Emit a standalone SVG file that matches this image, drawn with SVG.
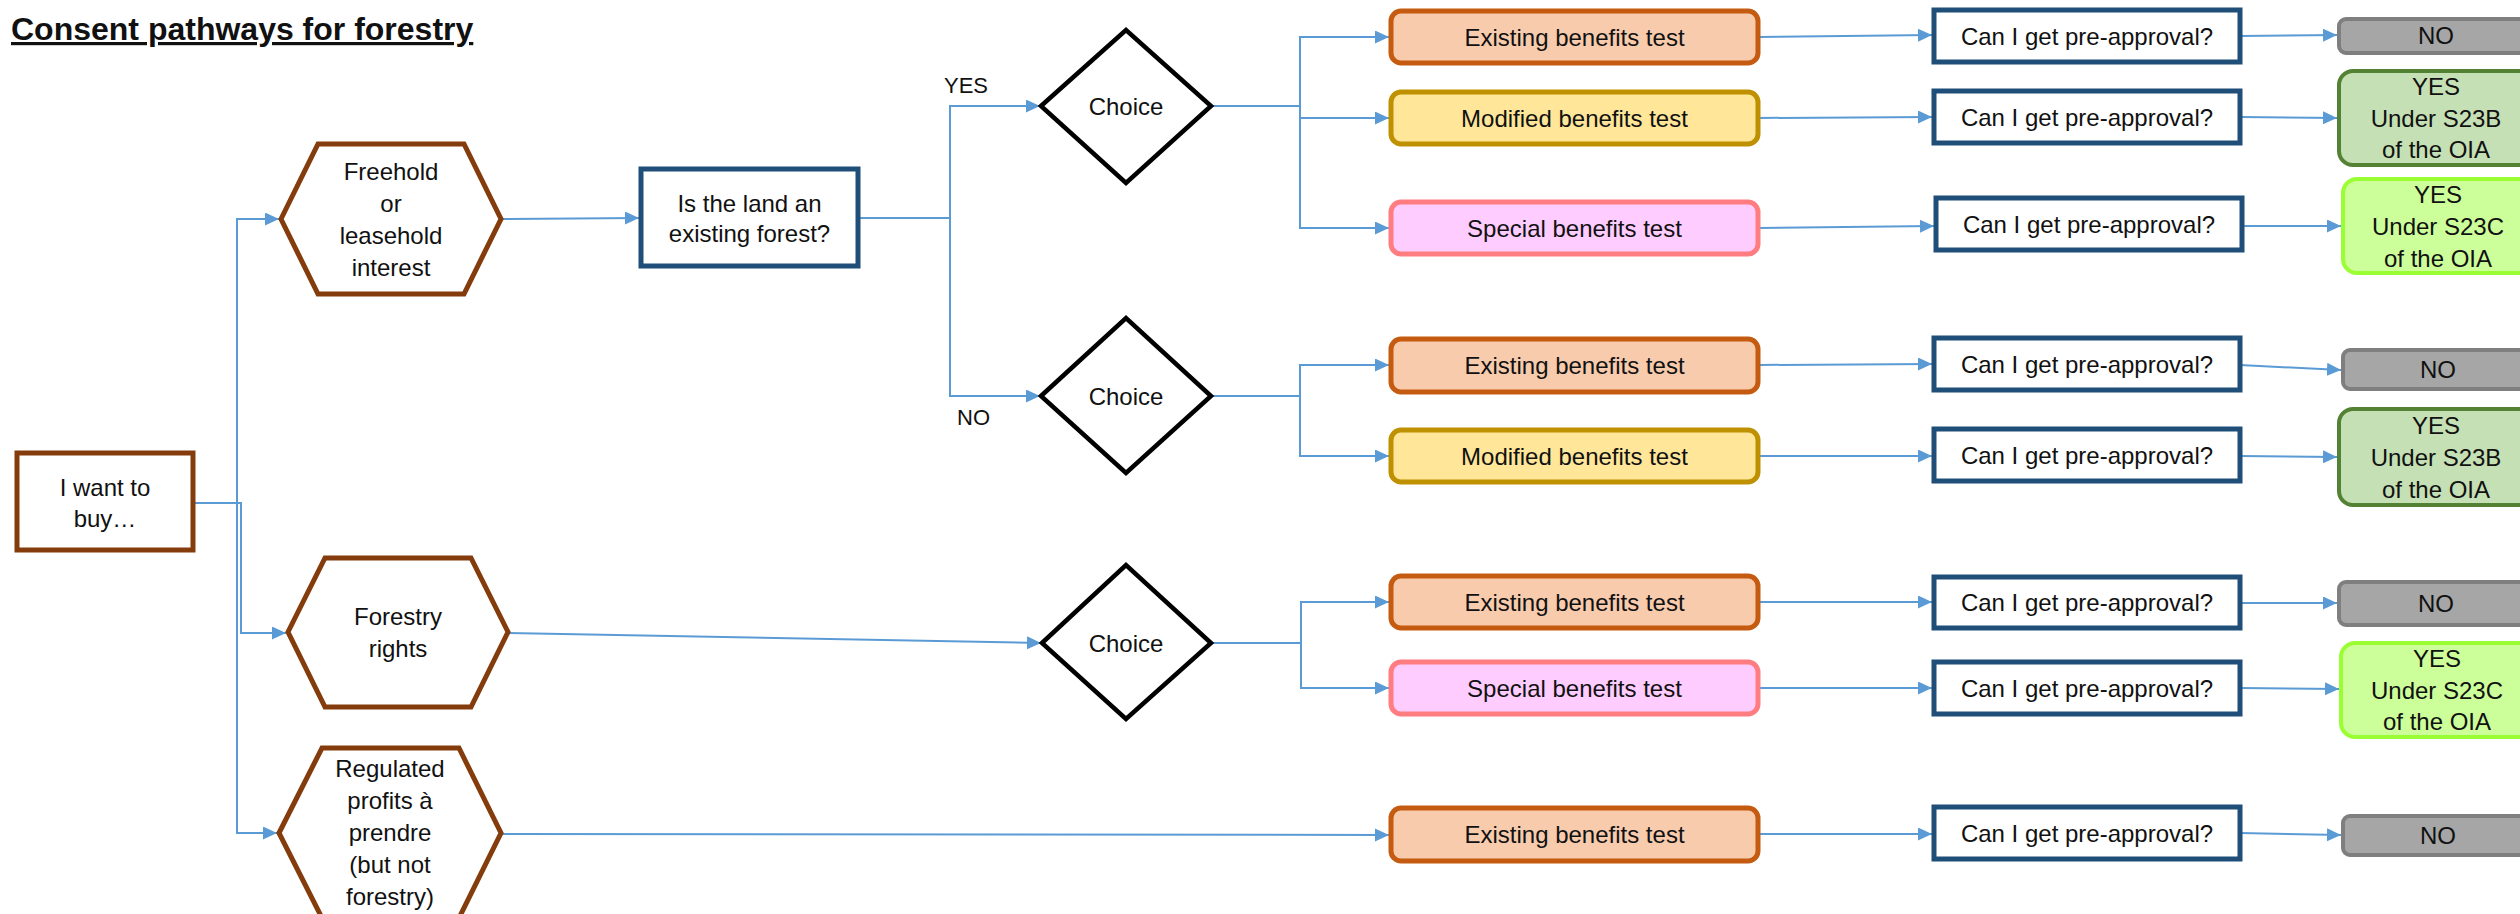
<svg xmlns="http://www.w3.org/2000/svg" width="2520" height="914" viewBox="0 0 2520 914">
<style>
text{font-family:"Liberation Sans",Arial,sans-serif;font-size:24px;fill:#111;text-anchor:middle}
.title{font-weight:bold;font-size:32px;text-anchor:start;text-decoration:underline}
.lbl{font-size:22px;text-anchor:start}
.hex{fill:#fff;stroke:#843C0C;stroke-width:5}
.q{fill:#fff;stroke:#1F4E79;stroke-width:5}
.dia{fill:#fff;stroke:#000;stroke-width:4.5}
.ex{fill:#F8CBAD;stroke:#C55A11;stroke-width:5}
.mod{fill:#FFE699;stroke:#BF9000;stroke-width:5}
.sp{fill:#FFCCFF;stroke:#FF7C80;stroke-width:5}
.no{fill:#A6A6A6;stroke:#7F7F7F;stroke-width:4}
.yb{fill:#C5E0B4;stroke:#548235;stroke-width:4}
.yc{fill:#CCFF99;stroke:#99FF33;stroke-width:4}
.c{fill:none;stroke:#5B9BD5;stroke-width:2;marker-end:url(#ar)}
</style>
<defs>
<marker id="ar" markerUnits="userSpaceOnUse" markerWidth="15" markerHeight="14" refX="14" refY="6.5" orient="auto">
<path d="M0,0 L14,6.5 L0,13 Z" fill="#5B9BD5"/>
</marker>
</defs>
<rect width="2520" height="914" fill="#fff"/>
<text class="title" x="11" y="40">Consent pathways for forestry</text>

<g id="connectors">
<path class="c" d="M193,503 H237 V219 H279"/>
<path class="c" d="M193,503 H241 V633 H286"/>
<path class="c" d="M193,503 H237 V833 H277"/>
<path class="c" d="M501,219 L639,218"/>
<path class="c" d="M858,218 H950 V106 H1040"/>
<path class="c" d="M858,218 H950 V396 H1040"/>
<path class="c" d="M508,633 L1041,643"/>
<path class="c" d="M501,834 L1389,835"/>
<path class="c" d="M1211,106 H1300 V37 H1389"/>
<path class="c" d="M1211,106 H1300 V118 H1389"/>
<path class="c" d="M1211,106 H1300 V228 H1389"/>
<path class="c" d="M1211,396 H1300 V365 H1389"/>
<path class="c" d="M1211,396 H1300 V456 H1389"/>
<path class="c" d="M1211,643 H1301 V602 H1389"/>
<path class="c" d="M1211,643 H1301 V688 H1389"/>
<path class="c" d="M1758,37 L1932,35"/>
<path class="c" d="M1758,118 L1932,117"/>
<path class="c" d="M1758,228 L1934,226"/>
<path class="c" d="M1758,365 L1932,364"/>
<path class="c" d="M1758,456 L1932,456"/>
<path class="c" d="M1758,602 L1932,602"/>
<path class="c" d="M1758,688 L1932,688"/>
<path class="c" d="M1758,834 L1932,834"/>
<path class="c" d="M2240,36 L2337,35"/>
<path class="c" d="M2240,117 L2337,118"/>
<path class="c" d="M2242,226 L2341,226"/>
<path class="c" d="M2240,365 L2341,370"/>
<path class="c" d="M2240,456 L2337,457"/>
<path class="c" d="M2240,603 L2337,603"/>
<path class="c" d="M2240,688 L2339,689"/>
<path class="c" d="M2240,833 L2341,835"/>
</g>

<g id="start"><rect class="hex" x="17" y="453" width="176" height="97"/><text x="105" y="496">I want to</text><text x="105" y="527">buy…</text></g>

<g id="freehold"><polygon class="hex" points="281,219 318,144 464,144 501,219 464,294 318,294"/>
<text x="391" y="180">Freehold</text><text x="391" y="212">or</text><text x="391" y="244">leasehold</text><text x="391" y="276">interest</text></g>

<g id="forestry"><polygon class="hex" points="288,632 325,558 471,558 508,632 471,707 325,707"/>
<text x="398" y="625">Forestry</text><text x="398" y="657">rights</text></g>

<g id="regulated"><polygon class="hex" points="279,833 322,748 459,748 501,833 459,918 322,918"/>
<text x="390" y="777">Regulated</text><text x="390" y="809">profits à</text><text x="390" y="841">prendre</text><text x="390" y="873">(but not</text><text x="390" y="905">forestry)</text></g>

<g id="existing-forest"><rect class="q" x="641" y="169" width="217" height="97"/>
<text x="749.5" y="212">Is the land an</text><text x="749.5" y="242">existing forest?</text></g>

<g id="yes-label"><text class="lbl" x="944" y="93">YES</text></g>
<g id="no-label"><text class="lbl" x="957" y="425">NO</text></g>

<g id="choice1"><polygon class="dia" points="1041,106 1126,30 1211,106 1126,183"/><text x="1126" y="115">Choice</text></g>
<g id="choice2"><polygon class="dia" points="1041,396 1126,318 1211,396 1126,473"/><text x="1126" y="405">Choice</text></g>
<g id="choice3"><polygon class="dia" points="1042,643 1126,565 1211,643 1126,719"/><text x="1126" y="652">Choice</text></g>

<g id="test1"><rect class="ex" x="1391" y="11" width="367" height="52" rx="10"/><text x="1574.5" y="46">Existing benefits test</text></g>
<g id="test2"><rect class="mod" x="1391" y="92" width="367" height="52" rx="10"/><text x="1574.5" y="127">Modified benefits test</text></g>
<g id="test3"><rect class="sp" x="1391" y="202" width="367" height="52" rx="10"/><text x="1574.5" y="237">Special benefits test</text></g>
<g id="test4"><rect class="ex" x="1391" y="339" width="367" height="53" rx="10"/><text x="1574.5" y="374">Existing benefits test</text></g>
<g id="test5"><rect class="mod" x="1391" y="430" width="367" height="52" rx="10"/><text x="1574.5" y="465">Modified benefits test</text></g>
<g id="test6"><rect class="ex" x="1391" y="576" width="367" height="52" rx="10"/><text x="1574.5" y="611">Existing benefits test</text></g>
<g id="test7"><rect class="sp" x="1391" y="662" width="367" height="52" rx="10"/><text x="1574.5" y="697">Special benefits test</text></g>
<g id="test8"><rect class="ex" x="1391" y="808" width="367" height="53" rx="10"/><text x="1574.5" y="843">Existing benefits test</text></g>

<g id="pre1"><rect class="q" x="1934" y="10" width="306" height="52"/><text x="2087" y="45">Can I get pre-approval?</text></g>
<g id="pre2"><rect class="q" x="1934" y="91" width="306" height="52"/><text x="2087" y="126">Can I get pre-approval?</text></g>
<g id="pre3"><rect class="q" x="1936" y="198" width="306" height="52"/><text x="2089" y="233">Can I get pre-approval?</text></g>
<g id="pre4"><rect class="q" x="1934" y="338" width="306" height="52"/><text x="2087" y="373">Can I get pre-approval?</text></g>
<g id="pre5"><rect class="q" x="1934" y="429" width="306" height="52"/><text x="2087" y="464">Can I get pre-approval?</text></g>
<g id="pre6"><rect class="q" x="1934" y="577" width="306" height="51"/><text x="2087" y="611">Can I get pre-approval?</text></g>
<g id="pre7"><rect class="q" x="1934" y="662" width="306" height="52"/><text x="2087" y="697">Can I get pre-approval?</text></g>
<g id="pre8"><rect class="q" x="1934" y="807" width="306" height="52"/><text x="2087" y="842">Can I get pre-approval?</text></g>

<g id="result1"><rect class="no" x="2339" y="19" width="200" height="34" rx="7"/><text x="2436" y="44">NO</text></g>
<g id="result2"><rect class="yb" x="2339" y="71" width="200" height="94" rx="14"/><text x="2436" y="95">YES</text><text x="2436" y="127">Under S23B</text><text x="2436" y="158">of the OIA</text></g>
<g id="result3"><rect class="yc" x="2343" y="179" width="200" height="94" rx="14"/><text x="2438" y="203">YES</text><text x="2438" y="235">Under S23C</text><text x="2438" y="267">of the OIA</text></g>
<g id="result4"><rect class="no" x="2343" y="350" width="200" height="39" rx="7"/><text x="2438" y="378">NO</text></g>
<g id="result5"><rect class="yb" x="2339" y="409" width="200" height="96" rx="14"/><text x="2436" y="434">YES</text><text x="2436" y="466">Under S23B</text><text x="2436" y="498">of the OIA</text></g>
<g id="result6"><rect class="no" x="2339" y="582" width="200" height="43" rx="7"/><text x="2436" y="612">NO</text></g>
<g id="result7"><rect class="yc" x="2341" y="643" width="200" height="94" rx="14"/><text x="2437" y="667">YES</text><text x="2437" y="699">Under S23C</text><text x="2437" y="730">of the OIA</text></g>
<g id="result8"><rect class="no" x="2343" y="816" width="200" height="39" rx="7"/><text x="2438" y="844">NO</text></g>
</svg>
